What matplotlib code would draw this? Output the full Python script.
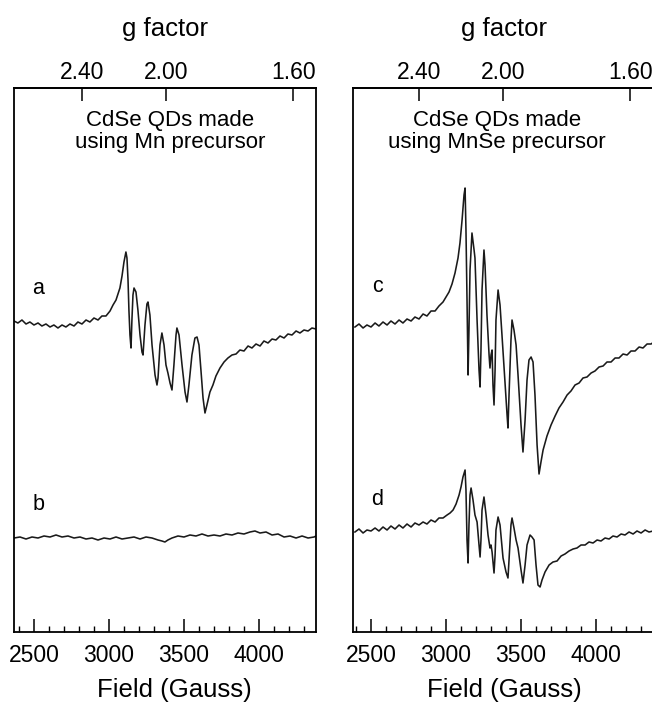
import numpy as np
import matplotlib
matplotlib.use("Agg")
import matplotlib.pyplot as plt
from matplotlib.ticker import MultipleLocator, FormatStrFormatter

plt.rcParams['font.family'] = ['Liberation Sans', 'DejaVu Sans']

# g = h*nu / (muB * B)  ->  B[G] * g = 6765 (X-band, ~9.47 GHz)
G_CONST = 6765.0

field_ticks = [2500, 3000, 3500, 4000]
g_ticks = [2.40, 2.00, 1.60]
field_range_left = (2367, 4380)
field_range_right = (2380, 4393)

# spectrum a: CdSe QDs, Mn precursor
field_a = [2367, 2393, 2420, 2447, 2473, 2500, 2527, 2553, 2580, 2607,
           2633, 2660, 2687, 2713, 2740, 2767, 2793, 2820, 2847, 2873,
           2900, 2927, 2953, 2980, 3007, 3027, 3047, 3060, 3073, 3087,
           3100, 3113, 3120, 3127, 3133, 3140, 3147, 3153, 3160, 3167,
           3180, 3193, 3207, 3220, 3227, 3240, 3253, 3260, 3273, 3287,
           3307, 3320, 3327, 3340, 3353, 3367, 3380, 3393, 3407, 3420,
           3433, 3447, 3453, 3467, 3487, 3507, 3520, 3533, 3553, 3573,
           3587, 3600, 3613, 3627, 3640, 3653, 3673, 3693, 3713, 3740,
           3767, 3793, 3820, 3847, 3873, 3900, 3927, 3953, 3980, 4007,
           4033, 4060, 4087, 4113, 4140, 4167, 4193, 4220, 4247, 4273,
           4300, 4327, 4353, 4380]
sig_a = [1, -1, 2, -2, 0, -3, -1, -4, -2, -5,
         -3, -6, -3, -5, -2, -4, 0, -2, 2, 0,
         4, 2, 6, 6, 11, 17, 22, 28, 34, 46,
         60, 70, 64, 42, 12, -13, -26, 2, 27, 34,
         30, 12, -13, -30, -33, -3, 18, 20, 7, -23,
         -53, -63, -56, -23, -11, -23, -43, -51, -61, -68,
         -43, -13, -6, -13, -43, -70, -80, -63, -33, -16,
         -15, -23, -48, -76, -91, -83, -70, -63, -54, -46,
         -40, -36, -33, -32, -28, -29, -24, -26, -22, -24,
         -19, -21, -17, -18, -14, -16, -12, -13, -9, -11,
         -8, -9, -6, -7]

# spectrum b: control, flat
field_b = [2367, 2407, 2447, 2487, 2527, 2567, 2607, 2647, 2687, 2727,
           2767, 2807, 2847, 2887, 2927, 2967, 3007, 3047, 3087, 3127,
           3167, 3207, 3247, 3287, 3327, 3353, 3373, 3393, 3420, 3460,
           3500, 3540, 3580, 3620, 3660, 3700, 3740, 3780, 3820, 3860,
           3900, 3940, 3973, 4007, 4047, 4087, 4127, 4167, 4207, 4247,
           4287, 4327, 4367, 4380]
sig_b = [0, 1, -1, 1, 0, 2, 1, 3, 1, 2,
         0, 1, -1, 0, -2, 0, -1, 1, -1, 0,
         1, -1, 1, 0, -2, -3, -4, -2, 0, 2,
         1, 3, 2, 4, 2, 3, 2, 4, 3, 5,
         4, 6, 7, 5, 6, 3, 4, 1, 2, 0,
         2, 0, 1, 2]

# spectrum c: CdSe QDs, MnSe precursor
field_c = [2393, 2420, 2447, 2473, 2500, 2527, 2553, 2580, 2607, 2633,
           2660, 2687, 2713, 2740, 2767, 2793, 2820, 2847, 2873, 2900,
           2927, 2953, 2980, 3000, 3020, 3040, 3060, 3080, 3093, 3107,
           3120, 3127, 3133, 3140, 3147, 3153, 3160, 3173, 3187, 3193,
           3207, 3220, 3227, 3233, 3240, 3253, 3260, 3273, 3287, 3293,
           3300, 3307, 3313, 3320, 3327, 3333, 3347, 3360, 3373, 3393,
           3407, 3413, 3420, 3433, 3440, 3453, 3467, 3480, 3500, 3513,
           3527, 3540, 3553, 3567, 3580, 3593, 3607, 3620, 3633, 3647,
           3673, 3700, 3727, 3753, 3780, 3807, 3833, 3860, 3887, 3913,
           3940, 3967, 3993, 4020, 4047, 4073, 4100, 4127, 4153, 4180,
           4207, 4233, 4260, 4287, 4313, 4340, 4367, 4393]
sig_c = [0, 3, -1, 2, 0, 4, 1, 5, 2, 6,
         3, 7, 4, 8, 6, 10, 8, 13, 11, 16,
         16, 21, 25, 30, 35, 43, 54, 69, 84, 107,
         132, 139, 97, 27, -48, -3, 57, 94, 77, 69,
         7, -43, -60, -23, 37, 77, 62, 12, -28, -41,
         -28, -23, -58, -78, -43, 7, 37, 22, -8, -55,
         -88, -101, -68, -13, 7, -3, -18, -48, -98, -125,
         -93, -53, -33, -30, -35, -68, -118, -147, -135, -123,
         -109, -98, -89, -81, -75, -68, -64, -58, -56, -51,
         -50, -46, -44, -40, -39, -35, -35, -31, -31, -27,
         -28, -24, -24, -20, -21, -17, -17, -14]

# spectrum d
field_d = [2393, 2420, 2447, 2473, 2500, 2527, 2553, 2580, 2607, 2633,
           2660, 2687, 2713, 2740, 2767, 2793, 2820, 2847, 2873, 2900,
           2927, 2953, 2980, 3007, 3027, 3047, 3067, 3087, 3100, 3113,
           3127, 3133, 3140, 3147, 3153, 3160, 3167, 3180, 3193, 3207,
           3220, 3227, 3233, 3240, 3253, 3267, 3280, 3293, 3300, 3307,
           3320, 3327, 3333, 3347, 3360, 3380, 3400, 3413, 3420, 3433,
           3440, 3453, 3467, 3480, 3500, 3513, 3527, 3540, 3560, 3573,
           3587, 3600, 3613, 3627, 3640, 3660, 3687, 3713, 3740, 3767,
           3793, 3820, 3847, 3873, 3900, 3927, 3953, 3980, 4007, 4033,
           4060, 4087, 4113, 4140, 4167, 4193, 4220, 4247, 4273, 4300,
           4327, 4353, 4380, 4393]
sig_d = [0, 3, -1, 2, 1, 4, 1, 5, 2, 6,
         3, 7, 4, 8, 5, 9, 7, 10, 8, 12,
         10, 14, 14, 17, 19, 22, 28, 37, 45, 55,
         62, 42, -8, -31, 7, 37, 44, 32, 17, 10,
         -13, -25, -8, 22, 35, 17, -3, -16, -13, -20,
         -41, -23, 2, 15, 7, -26, -40, -46, -28, 7,
         14, 4, -8, -16, -38, -51, -33, -13, -3, -5,
         -8, -33, -53, -55, -48, -40, -33, -30, -29, -24,
         -22, -19, -17, -16, -13, -13, -10, -11, -8, -9,
         -6, -7, -4, -5, -2, -3, 0, -2, 1, -1,
         2, 0, 1, 0]

panel_text = ["CdSe QDs made\nusing Mn precursor",
              "CdSe QDs made\nusing MnSe precursor"]
# (label, field, signal, vertical offset, label y in axes fraction)
panels = [
    [("a", field_a, sig_a, 310, 0.632), ("b", field_b, sig_b, 94, 0.235)],
    [("c", field_c, sig_c, 305, 0.636), ("d", field_d, sig_d, 100, 0.244)],
]


def b_to_g(b):
    b = np.asarray(b, dtype=float)
    with np.errstate(divide='ignore'):
        return G_CONST / b


W, H = 652, 704
fig = plt.figure(figsize=(W / 100, H / 100), dpi=100)

left_px = [14, 353]
ranges = [field_range_left, field_range_right]
text_x = [0.518, 0.477]
xlabel_x = [0.53, 0.5]
for i, x0 in enumerate(left_px):
    ax = fig.add_axes([x0 / W, 72 / H, 302 / W, 544 / H])
    for lab, fx, sy, off, ly in panels[i]:
        ax.plot(fx, np.array(sy) + off, color='#1a1a1a', lw=1.15)
        ax.text(0.08, ly, lab, transform=ax.transAxes,
                fontsize=15.5, ha='center', va='center')

    lines = panel_text[i].split("\n")
    ax.text(text_x[i], 0.940, lines[0], transform=ax.transAxes,
            fontsize=16, ha='center', va='center')
    ax.text(text_x[i], 0.900, lines[1], transform=ax.transAxes,
            fontsize=16, ha='center', va='center')

    ax.set_xlim(*ranges[i])
    ax.set_ylim(0, 544)
    ax.set_yticks([])
    ax.set_xticks(field_ticks)
    ax.xaxis.set_minor_locator(MultipleLocator(100))
    ax.tick_params(axis='x', which='major', direction='in', length=9.5,
                   width=1.1, labelsize=16.5, pad=9)
    ax.tick_params(axis='x', which='minor', direction='in', length=4.5,
                   width=1.0)
    for s in ax.spines.values():
        s.set_linewidth(1.3)
    ax.set_xlabel("Field (Gauss)", fontsize=18.5, labelpad=8)
    ax.xaxis.set_label_coords(xlabel_x[i], -0.085)

    sec = ax.secondary_xaxis('top', functions=(b_to_g, b_to_g))
    sec.set_xticks(g_ticks)
    sec.xaxis.set_major_formatter(FormatStrFormatter('%.2f'))
    sec.xaxis.set_minor_locator(plt.NullLocator())
    sec.tick_params(axis='x', direction='in', length=9.5, width=1.1,
                    labelsize=16.5, pad=3)
    sec.spines['top'].set_linewidth(1.3)
    sec.set_xlabel("g factor", fontsize=18.5, labelpad=18)

fig.savefig("out.png", dpi=100)
